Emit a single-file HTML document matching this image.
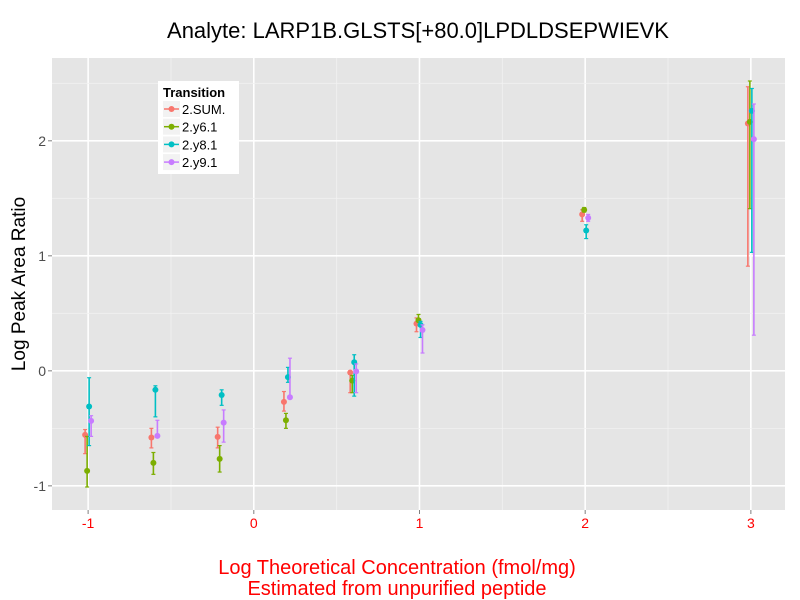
<!DOCTYPE html>
<html><head><meta charset="utf-8"><style>
body{margin:0;background:#fff;}
svg{display:block;font-family:"Liberation Sans",sans-serif;}
</style></head><body>
<svg id="chart" width="800" height="600">
<text x="418" y="38" font-size="22" text-anchor="middle" fill="#000">Analyte: LARP1B.GLSTS[+80.0]LPDLDSEPWIEVK</text>
<rect x="52" y="58" width="733" height="452" fill="#e5e5e5"/>
<g id="grid"></g>
<g id="marks"></g>
<g id="axes"></g>
<text transform="translate(25,284) rotate(-90)" font-size="19" text-anchor="middle">Log Peak Area Ratio</text>
<text x="397" y="574" font-size="20" text-anchor="middle" fill="#ff0000">Log Theoretical Concentration (fmol/mg)</text>
<text x="397" y="595" font-size="20" text-anchor="middle" fill="#ff0000">Estimated from unpurified peptide</text>
<g>
<rect x="158" y="81" width="81" height="93" fill="#fff"/>
<text x="163" y="97" font-size="13" font-weight="bold">Transition</text>
<g id="legend-items"></g>
</g>
</svg>
<script>
const categories=[-1,-0.6,-0.2,0.2,0.6,1,2,3];
const seriesNames=["2.SUM.","2.y6.1","2.y8.1","2.y9.1"];
const colors=["#f8766d","#7cae00","#00bfc4","#c77cff"];
const sumMean=[-0.557,-0.58,-0.574,-0.27,-0.015,0.41,1.36,2.15];
const sumLo=[-0.72,-0.67,-0.67,-0.35,-0.19,0.34,1.30,0.91];
const sumHi=[-0.51,-0.50,-0.49,-0.18,0.0,0.46,1.40,2.47];
const y6Mean=[-0.87,-0.80,-0.765,-0.43,-0.085,0.44,1.40,2.165];
const y6Lo=[-1.01,-0.90,-0.88,-0.50,-0.19,0.43,1.38,1.41];
const y6Hi=[-0.57,-0.71,-0.65,-0.37,-0.04,0.49,1.42,2.52];
const y8Mean=[-0.31,-0.165,-0.21,-0.055,0.075,0.40,1.22,2.26];
const y8Lo=[-0.65,-0.40,-0.30,-0.10,-0.22,0.29,1.15,1.03];
const y8Hi=[-0.06,-0.13,-0.165,0.03,0.14,0.43,1.27,2.455];
const y9Mean=[-0.435,-0.565,-0.45,-0.23,-0.005,0.355,1.33,2.015];
const y9Lo=[-0.57,-0.58,-0.62,-0.23,-0.19,0.155,1.30,0.31];
const y9Hi=[-0.39,-0.43,-0.34,0.11,0.06,0.40,1.36,2.32];
const xTicks=[-1,0,1,2,3];
const yTicks=[-1,0,1,2];

const NS="http://www.w3.org/2000/svg";
const X0=52,X1=785,Y0=58,Y1=510;
const xmin=-1.218,xmax=3.206,ymin=-1.21,ymax=2.72;
function xs(v){return X0+(v-xmin)/(xmax-xmin)*(X1-X0);}
function ys(v){return Y1-(v-ymin)/(ymax-ymin)*(Y1-Y0);}
function mk(tag,attrs,parent){const e=document.createElementNS(NS,tag);for(const k in attrs)e.setAttribute(k,attrs[k]);parent.appendChild(e);return e;}
const grid=document.getElementById('grid'),axes=document.getElementById('axes'),marks=document.getElementById('marks');
for(let v=-1;v<=3.01;v+=0.5){const l=mk('line',{x1:xs(v),x2:xs(v),y1:Y0,y2:Y1,stroke:Number.isInteger(v)?'#fff':'#f2f2f2','stroke-width':Number.isInteger(v)?1.6:0.8},grid);

}
for(let v=-1;v<=2.51;v+=0.5){const l=mk('line',{x1:X0,x2:X1,y1:ys(v),y2:ys(v),stroke:Number.isInteger(v)?'#fff':'#f2f2f2','stroke-width':Number.isInteger(v)?1.6:0.8},grid);

}
xTicks.forEach(v=>{const t=mk('text',{x:xs(v),y:528,'font-size':14,'text-anchor':'middle',fill:'#ff0000'},axes);t.textContent=v;


mk('line',{x1:xs(v),x2:xs(v),y1:Y1,y2:Y1+4,stroke:'#7f7f7f'},axes);});
yTicks.forEach(v=>{const t=mk('text',{x:46,y:ys(v)+5,'font-size':14,'text-anchor':'end',fill:'#4d4d4d'},axes);t.textContent=v;


mk('line',{x1:X0-4,x2:X0,y1:ys(v),y2:ys(v),stroke:'#7f7f7f'},axes);});
const means=[sumMean,y6Mean,y8Mean,y9Mean],los=[sumLo,y6Lo,y8Lo,y9Lo],his=[sumHi,y6Hi,y8Hi,y9Hi];
const offs=[-3,-1,1,3];
for(let s=0;s<4;s++){const g=mk('g',{},marks);


categories.forEach((c,i)=>{const x=xs(c)+offs[s];const c0=colors[s];
mk('line',{x1:x,x2:x,y1:ys(los[s][i]),y2:ys(his[s][i]),stroke:c0,'stroke-width':1.6},g);
mk('line',{x1:x-2,x2:x+2,y1:ys(los[s][i]),y2:ys(los[s][i]),stroke:c0,'stroke-width':1.2},g);
mk('line',{x1:x-2,x2:x+2,y1:ys(his[s][i]),y2:ys(his[s][i]),stroke:c0,'stroke-width':1.2},g);
const p=mk('circle',{cx:x,cy:ys(means[s][i]),r:3,fill:c0},g);

});}
const li=document.getElementById('legend-items');
seriesNames.forEach((n,i)=>{const y=109+i*17.7;
mk('rect',{x:163,y:y-8,width:17,height:16,fill:'#f2f2f2'},li);
mk('line',{x1:164,x2:179,y1:y,y2:y,stroke:colors[i],'stroke-width':1.5},li);
mk('circle',{cx:171.5,cy:y,r:3,fill:colors[i]},li);
const t=mk('text',{x:182,y:y+5,'font-size':13},li);t.textContent=n;

});
</script>
</body></html>
